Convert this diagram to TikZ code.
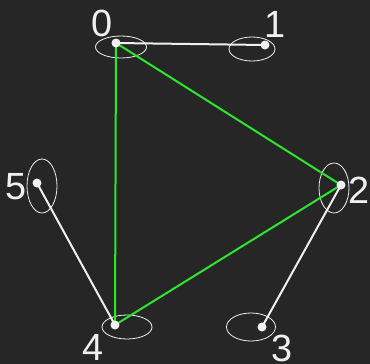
\documentclass[tikz,border=0pt]{standalone}
\usepackage{fontspec}
\setmainfont{Liberation Sans}
\usetikzlibrary{shapes.geometric}
\definecolor{bg}{HTML}{262626}
\definecolor{fg}{HTML}{F0F0F0}
\definecolor{gr}{HTML}{2EE62E}
\begin{document}
\begin{tikzpicture}[x=1bp,y=-1bp,
  dot/.style={circle,fill=fg,inner sep=0pt,minimum size=9bp},
  ring/.style={draw=fg,line width=0.8bp,ellipse,inner sep=0pt},
  wedge/.style={draw=fg,line width=2bp},
  gedge/.style={draw=gr,line width=2bp},
  lbl/.style={text=fg,font=\fontsize{38}{38}\selectfont,inner sep=0pt}]
\fill[bg] (0,0) rectangle (370,364);
\useasboundingbox (0,0) rectangle (370,364);
% ellipses
\node[ring,minimum width=51bp,minimum height=22bp] (e0) at (121,47) {};
\node[ring,minimum width=46bp,minimum height=24bp] (e1) at (252,49) {};
\node[ring,minimum width=30bp,minimum height=50bp] (e2) at (334,188) {};
\node[ring,minimum width=49bp,minimum height=28bp] (e3) at (251,327) {};
\node[ring,minimum width=50bp,minimum height=24bp] (e4) at (127,327) {};
\node[ring,minimum width=30bp,minimum height=54bp] (e5) at (42,186) {};
% dot positions
\coordinate (c0) at (116,43);
\coordinate (c1) at (265,45);
\coordinate (c2) at (341,185);
\coordinate (c3) at (262,327);
\coordinate (c4) at (115,325);
\coordinate (c5) at (37,183);
% edges
\draw[wedge] (c0) -- (c1);
\draw[wedge] (c2) -- (c3);
\draw[wedge] (c4) -- (c5);
\draw[gedge] (c0) -- (c2);
\draw[gedge] (c0) -- (c4);
\draw[gedge] (c2) -- (c4);
% dots
\node[dot] (d0) at (c0) {};
\node[dot] (d1) at (c1) {};
\node[dot] (d2) at (c2) {};
\node[dot] (d3) at (c3) {};
\node[dot] (d4) at (c4) {};
\node[dot] (d5) at (c5) {};
% labels
\node[lbl] (l0) at (102,23) {0};
\node[lbl] (l1) at (275,24) {1};
\node[lbl] (l2) at (359,190) {2};
\node[lbl] (l3) at (282,348) {3};
\node[lbl] (l4) at (93,347) {4};
\node[lbl] (l5) at (16,187) {5};
\end{tikzpicture}
\end{document}
